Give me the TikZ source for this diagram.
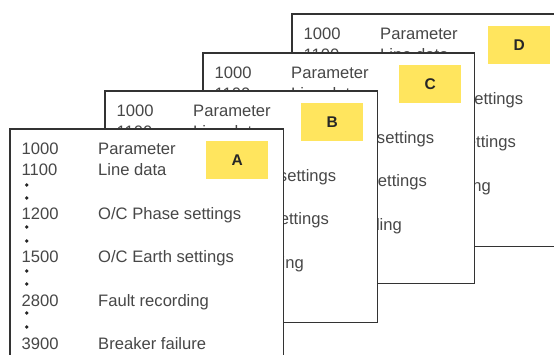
\documentclass[tikz,border=0pt]{standalone}
\usepackage{fontspec}
\setmainfont{Liberation Sans}
\definecolor{ink}{HTML}{474747}
\definecolor{frame}{HTML}{333333}
\definecolor{tagyellow}{HTML}{FFE55E}
\begin{document}
\begin{tikzpicture}[x=1pt,y=-1pt,
  card/.style={fill=white, anchor=north west, inner sep=0pt},
  edge/.style={draw=frame, line width=1.1pt},
  tag/.style={fill=tagyellow, anchor=north west, minimum width=62pt, minimum height=38pt,
              inner sep=0pt, text=black!85, font=\fontsize{15.5}{18}\selectfont\bfseries},
  entry/.style={anchor=base west, inner sep=0pt, text=ink, font=\fontsize{16.6}{20}\selectfont},
  dot/.style={circle, fill=black!85, inner sep=0pt, minimum size=3.8pt}]
\useasboundingbox (0,0) rectangle (554,354);
% cards from back to front: letter / left / top / width / height / rows shown / right side drawn
\foreach \L/\cx/\cy/\cw/\ch/\rows/\rside in {D/292/14/300/232/5/0, C/203/53/271/230/5/1,
                                             B/105/91/272/231/5/1, A/10/129/273/250/6/1} {
  \node[card, minimum width=\cw pt, minimum height=\ch pt] (card\L) at (\cx,\cy) {};
  \ifnum\rside=1
    \draw[edge] (card\L.north west) rectangle (card\L.south east);
  \else
    \draw[edge] (card\L.north east) -- (card\L.north west)
                -- (card\L.south west) -- (card\L.south east);
  \fi
  \node[tag] (tag\L) at ([shift={(196,12)}]card\L.north west) {\L};
  % number / title / baseline / dot positions above the row
  \foreach \num/\lab/\yb/\da/\db [count=\i] in {
      1000/Parameter/25/0/0,
      1100/Line data/46/0/0,
      1200/{O/C Phase settings}/90/56/69,
      1500/{O/C Earth settings}/133/98/112,
      2800/Fault recording/177/142/155,
      3900/Breaker failure/220/184/198} {
    \ifnum\i>\rows\relax\else
      \node[entry] (\L-n\i) at ([shift={(11.5,\yb)}]card\L.north west) {\num};
      \node[entry] (\L-t\i) at ([shift={(88,\yb)}]card\L.north west) {\lab};
      \ifnum\da>0
        \node[dot] (\L-da\i) at ([shift={(16.7,\da)}]card\L.north west) {};
        \node[dot] (\L-db\i) at ([shift={(16.7,\db)}]card\L.north west) {};
      \fi
    \fi
  }
}
\end{tikzpicture}
\end{document}
